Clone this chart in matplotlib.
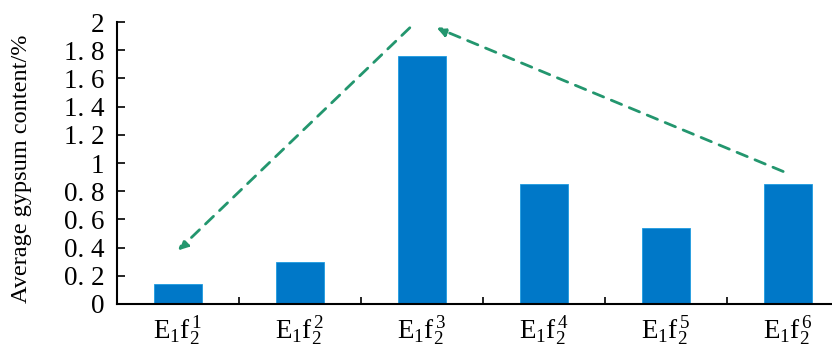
# Average gypsum content per sub-layer, bar chart with trend arrows.

import matplotlib
matplotlib.use("Agg")
import matplotlib.pyplot as plt
import numpy as np

plt.rcParams["font.family"] = ["Liberation Serif", "DejaVu Serif"]
plt.rcParams["mathtext.fontset"] = "custom"
plt.rcParams["mathtext.rm"] = "Liberation Serif"
plt.rcParams["mathtext.it"] = "Liberation Serif"

layers = [r"E$_1$f$_2^{\,1}$", r"E$_1$f$_2^{\,2}$", r"E$_1$f$_2^{\,3}$",
          r"E$_1$f$_2^{\,4}$", r"E$_1$f$_2^{\,5}$", r"E$_1$f$_2^{\,6}$"]
gypsum = [0.14, 0.30, 1.76, 0.85, 0.54, 0.85]

yticks = [0, 0.2, 0.4, 0.6, 0.8, 1.0, 1.2, 1.4, 1.6, 1.8, 2.0]
ytick_labels = ["0", "0. 2", "0. 4", "0. 6", "0. 8", "1", "1. 2", "1. 4", "1. 6", "1. 8", "2"]

# trend arrows (tail -> head) in data coords
arrow_down = [(1.90, 1.96), (0.0, 0.38)]
arrow_up = [(4.96, 0.94), (2.12, 1.96)]

fig = plt.figure(figsize=(8.32, 3.51), dpi=100)
ax = fig.add_axes([0.1406, 0.134, 0.8594, 0.803])

x = np.arange(len(layers))
ax.bar(x, gypsum, width=0.4, color="#0078C8", edgecolor="#1E9BE0", linewidth=0.6, zorder=2)

for (x0, y0), (x1, y1) in (arrow_down, arrow_up):
    ax.annotate("", xy=(x1, y1), xytext=(x0, y0),
                arrowprops=dict(arrowstyle="-|>", color="#23966E", lw=2.0, ls=(0, (4, 3)),
                                mutation_scale=14, shrinkA=0, shrinkB=0), zorder=3)

ax.set_xlim(-0.5, 5.36)
ax.set_ylim(0, 2)
ax.set_yticks(yticks)
ax.set_yticklabels(ytick_labels, fontsize=19.5)
ax.set_xticks(x)
ax.set_xticklabels(layers, fontsize=19.5)
ax.set_xticks(np.arange(0.5, 5, 1), minor=True)

ax.tick_params(axis="y", direction="in", length=6, width=1.2, pad=9)
ax.tick_params(axis="x", which="major", length=0, pad=8)
ax.tick_params(axis="x", which="minor", direction="in", length=5, width=1.2)

for side in ("top", "right"):
    ax.spines[side].set_visible(False)
for side in ("left", "bottom"):
    ax.spines[side].set_linewidth(1.5)

fig.text(0.026, 0.52, "Average gypsum content/%", rotation=90, fontsize=17.5,
         ha="center", va="center")

plt.savefig("out.png", dpi=100)
